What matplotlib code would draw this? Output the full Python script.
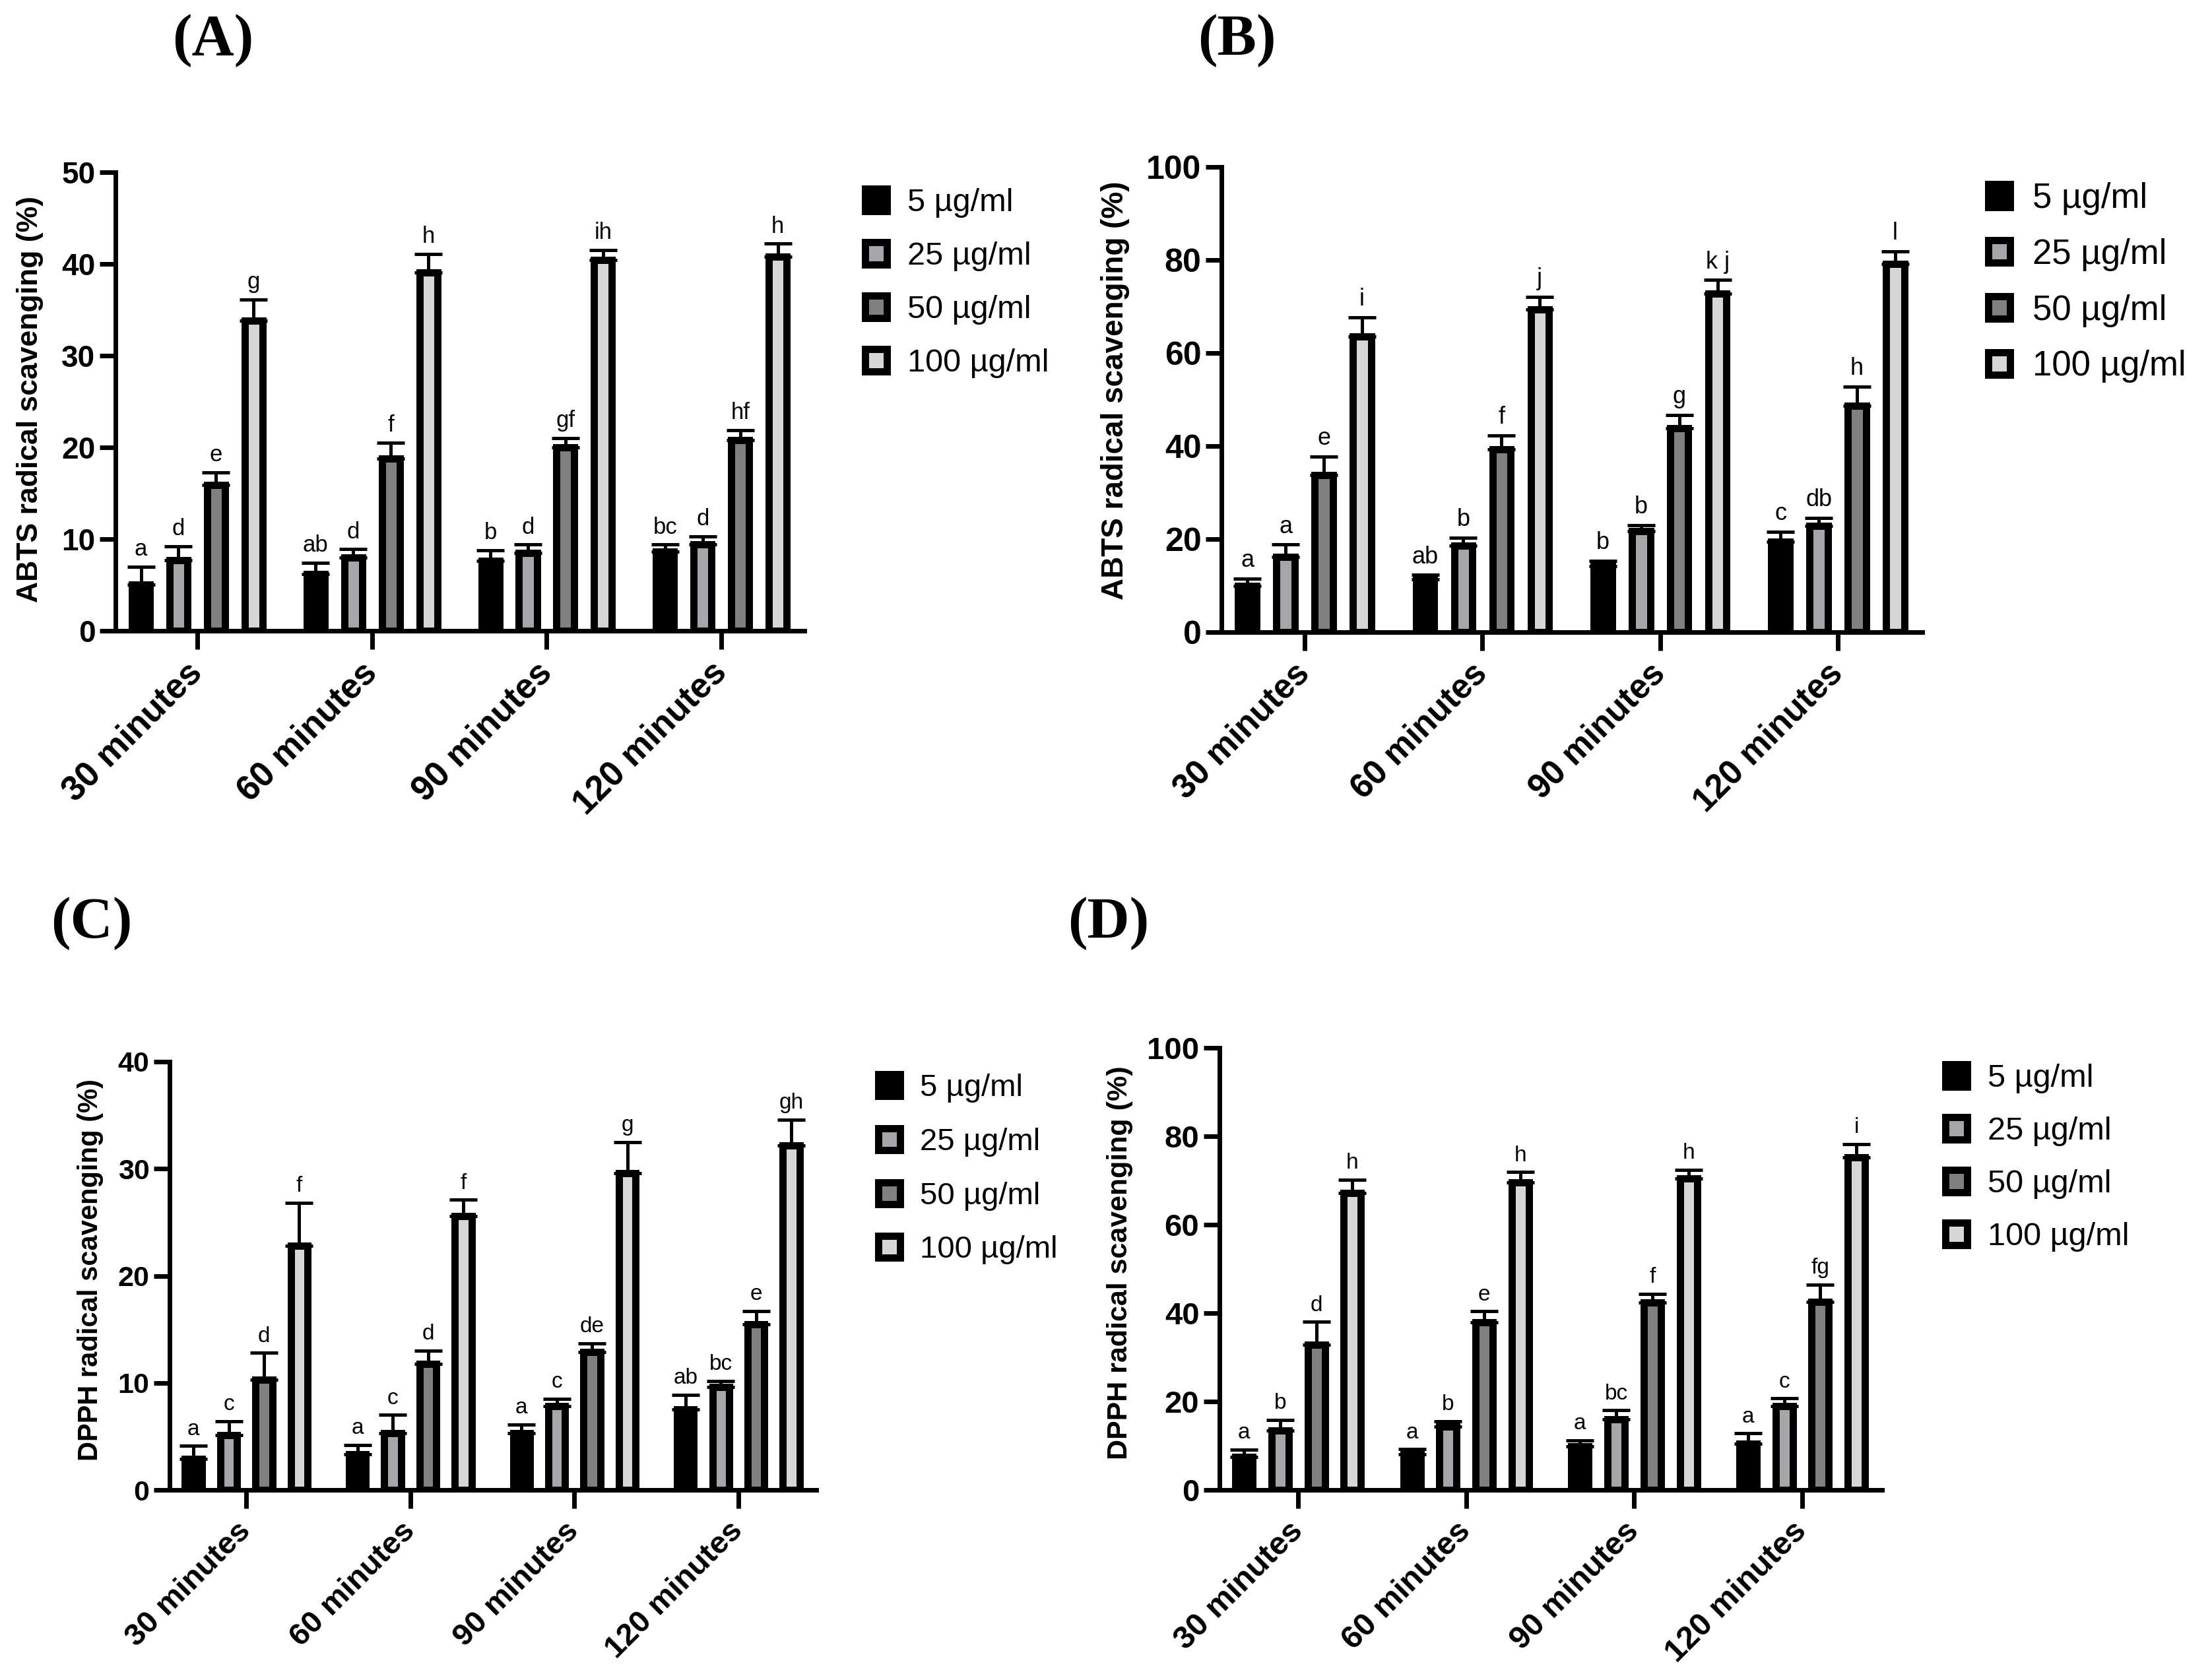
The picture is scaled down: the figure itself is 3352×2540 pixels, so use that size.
import numpy as np
import matplotlib
matplotlib.use("Agg")
from matplotlib import pyplot as plt
from matplotlib.patches import Patch
from matplotlib.transforms import ScaledTranslation

plt.rcParams['font.family'] = ['Liberation Sans', 'DejaVu Sans']

times = ["30 minutes", "60 minutes", "90 minutes", "120 minutes"]
doses = ["5 µg/ml", "25 µg/ml", "50 µg/ml", "100 µg/ml"]
fills = ["#000000", "#a6a6aa", "#808080", "#d6d6d6"]

# rows = dose (5, 25, 50, 100 ug/ml), columns = time (30, 60, 90, 120 min)
a_mean = [[5.0, 6.2, 7.6, 8.6],
          [7.7, 8.0, 8.5, 9.4],
          [15.9, 18.8, 20.0, 20.8],
          [33.8, 39.1, 40.4, 40.8]]
a_err = [[2.0, 1.2, 1.2, 0.8],
         [1.5, 0.9, 0.9, 0.9],
         [1.4, 1.7, 1.0, 1.1],
         [2.3, 2.0, 1.1, 1.4]]
# letters: rows = time, columns = dose
a_letters = [["a", "d", "e", "g"],
             ["ab", "d", "f", "h"],
             ["b", "d", "gf", "ih"],
             ["bc", "d", "hf", "h"]]

b_mean = [[9.9, 11.3, 14.2, 19.4],
          [16.2, 18.6, 21.7, 22.8],
          [33.8, 39.3, 43.8, 48.6],
          [63.6, 69.3, 72.8, 79.1]]
b_err = [[1.6, 1.0, 1.1, 2.2],
         [2.6, 1.7, 1.3, 1.8],
         [3.9, 3.0, 2.9, 4.2],
         [4.1, 2.8, 2.9, 2.8]]
b_letters = [["a", "a", "e", "i"],
             ["ab", "b", "f", "j"],
             ["b", "b", "g", "k j"],
             ["c", "db", "h", "l"]]

c_mean = [[2.9, 3.3, 5.3, 7.5],
          [5.1, 5.3, 7.8, 9.6],
          [10.3, 11.8, 12.9, 15.5],
          [22.8, 25.6, 29.6, 32.2]]
c_err = [[1.2, 0.9, 0.8, 1.4],
         [1.3, 1.7, 0.7, 0.6],
         [2.5, 1.2, 0.8, 1.2],
         [4.0, 1.5, 2.9, 2.4]]
c_letters = [["a", "c", "d", "f"],
             ["a", "c", "d", "f"],
             ["a", "c", "de", "g"],
             ["ab", "bc", "e", "gh"]]

d_mean = [[7.4, 8.1, 9.8, 10.4],
          [13.4, 14.3, 15.9, 18.9],
          [32.9, 37.9, 42.4, 42.6],
          [67.1, 69.6, 70.4, 75.2]]
d_err = [[1.7, 1.1, 1.4, 2.4],
         [2.4, 1.2, 2.1, 1.8],
         [5.1, 2.5, 2.0, 3.8],
         [3.1, 2.3, 2.0, 3.0]]
d_letters = [["a", "b", "d", "h"],
             ["a", "b", "e", "h"],
             ["a", "bc", "f", "h"],
             ["a", "c", "fg", "i"]]

W, H = 3352, 2540
fig = plt.figure(figsize=(W / 100, H / 100), dpi=100)

offsets = np.array([-1.5, -0.5, 0.5, 1.5]) * 0.215
bar_w = 0.102
edge_lw = 7.9


def panel(box, mean, err, letters, ymax, ystep, ylabel, ylab_xy, leg_xy, fs,
          lspace):
    # fs: ytick, xtick, ylabel, legend, letters
    l, t, r, b = box
    ax = fig.add_axes([l / W, 1 - b / H, (r - l) / W, (b - t) / H])
    x = np.arange(len(times))
    for i in range(len(doses)):
        xs = x + offsets[i]
        ax.bar(xs, mean[i], width=bar_w, color=fills[i], edgecolor="black",
               linewidth=edge_lw, zorder=2)
        ax.errorbar(xs, mean[i], yerr=[np.zeros(len(xs)), err[i]], fmt="none",
                    ecolor="black", elinewidth=3.6, capsize=15, capthick=3.6,
                    zorder=3)
        for j in range(len(times)):
            ax.annotate(letters[j][i], (xs[j], mean[i][j] + err[i][j]),
                        xytext=(0, 7), textcoords="offset points",
                        ha="center", va="bottom", fontsize=fs[4])
    ax.set_xlim(-0.468, 3.475)
    ax.set_ylim(0, ymax)
    ax.set_yticks(np.arange(0, ymax + 1, ystep))
    ax.set_xticks(x)
    ax.set_xticklabels(times, rotation=45, ha="right", va="center",
                       rotation_mode="anchor", fontweight="bold",
                       fontsize=fs[1])
    shift = ScaledTranslation(8 / 72, 0, fig.dpi_scale_trans)
    for lbl in ax.get_xticklabels():
        lbl.set_transform(lbl.get_transform() + shift)
    for lbl in ax.get_yticklabels():
        lbl.set_fontweight("bold")
        lbl.set_fontsize(fs[0])
    ax.tick_params(axis="both", width=5, length=17, direction="out", pad=5)
    ax.tick_params(axis="x", length=20, pad=20)
    for sp in ["top", "right"]:
        ax.spines[sp].set_visible(False)
    for sp in ["left", "bottom"]:
        ax.spines[sp].set_linewidth(5)
    fig.text(ylab_xy[0] / W, 1 - ylab_xy[1] / H, ylabel, rotation=90,
             ha="center", va="center", fontweight="bold", fontsize=fs[2])
    handles = [Patch(facecolor=c, edgecolor="black", linewidth=edge_lw)
               for c in fills]
    hsize = 33 / (fs[3] / 72 * 100)
    ax.legend(handles, doses, loc="upper left",
              bbox_to_anchor=(leg_xy[0] / W, 1 - leg_xy[1] / H),
              bbox_transform=fig.transFigure, frameon=False,
              fontsize=fs[3], handlelength=hsize, handleheight=hsize,
              handletextpad=0.64, labelspacing=lspace, borderpad=0,
              borderaxespad=0)
    return ax


panel((175, 261, 1219, 956), a_mean, a_err, a_letters, 50, 10,
      "ABTS radical scavenging (%)", (46, 605), (1311, 285),
      (33, 38, 32, 35, 25), 0.74)
panel((1851, 253, 2913, 958), b_mean, b_err, b_letters, 100, 20,
      "ABTS radical scavenging (%)", (1690, 592), (3013, 276),
      (36, 37, 33, 38, 26), 0.66)
panel((257, 1609, 1237, 2258), c_mean, c_err, c_letters, 40, 10,
      "DPPH radical scavenging (%)", (137, 1925), (1331, 1627),
      (31, 34, 30, 34, 24), 0.80)
panel((1848, 1588, 2852, 2258), d_mean, d_err, d_letters, 100, 20,
      "DPPH radical scavenging (%)", (1697, 1914), (2948, 1612),
      (34, 35, 31, 35, 24), 0.72)

for txt, (px, py) in [("(A)", (323, 62)), ("(B)", (1874, 62)),
                      ("(C)", (139, 1400)), ("(D)", (1680, 1400))]:
    fig.text(px / W, 1 - py / H, txt, ha="center", va="center",
             family="Liberation Serif", fontweight="bold", fontsize=64)

fig.savefig("out.png", dpi=100)
